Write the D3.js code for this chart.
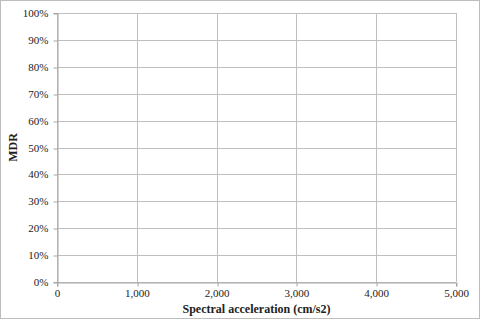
<!DOCTYPE html>
<html>
<head>
<meta charset="utf-8">
<script src="https://cdn.jsdelivr.net/npm/d3@7"></script>
<style>
  html, body { margin: 0; padding: 0; background: #fff; }
  svg { display: block; }
  text { font-family: "Liberation Serif", "DejaVu Serif", serif; fill: #222; }
</style>
</head>
<body>
<script>
// chart values
const xTicks = [0, 1000, 2000, 3000, 4000, 5000];
const yTicks = [0, 0.1, 0.2, 0.3, 0.4, 0.5, 0.6, 0.7, 0.8, 0.9, 1.0];
const xTitle = 'Spectral acceleration (cm/s2)';
const yTitle = 'MDR';

const width = 480, height = 319;
const margin = { left: 57, right: 24, top: 13, bottom: 37 };

const svg = d3.select('body').append('svg')
  .attr('width', width)
  .attr('height', height);

// outer frame
svg.append('rect')
  .attr('x', 0.5).attr('y', 0.5)
  .attr('width', width - 1).attr('height', height - 1)
  .attr('fill', 'none')
  .attr('stroke', '#bdbdbd');

const x = d3.scaleLinear()
  .domain([0, 5000])
  .range([margin.left, width - margin.right]);

const y = d3.scaleLinear()
  .domain([0, 1])
  .range([height - margin.bottom, margin.top]);

const g = svg.append('g');

// gridlines
g.selectAll('.hgrid')
  .data(yTicks)
  .enter().append('line')
  .attr('class', 'hgrid')
  .attr('x1', x(0)).attr('x2', x(5000))
  .attr('y1', d => Math.round(y(d)) + 0.5)
  .attr('y2', d => Math.round(y(d)) + 0.5)
  .attr('stroke', '#bfbfbf');

g.selectAll('.vgrid')
  .data(xTicks)
  .enter().append('line')
  .attr('class', 'vgrid')
  .attr('x1', d => Math.round(x(d)) + 0.5)
  .attr('x2', d => Math.round(x(d)) + 0.5)
  .attr('y1', y(1)).attr('y2', y(0))
  .attr('stroke', '#bfbfbf');

// axes
const fmtX = d3.format(',');
const fmtY = d3.format('.0%');

const xAxis = svg.append('g')
  .attr('transform', `translate(0,${Math.round(y(0)) + 0.5})`)
  .call(d3.axisBottom(x).tickValues(xTicks).tickFormat(fmtX).tickSizeOuter(0).tickSize(4).tickPadding(3));

const yAxis = svg.append('g')
  .attr('transform', `translate(${Math.round(x(0)) + 0.5},0)`)
  .call(d3.axisLeft(y).tickValues(yTicks).tickFormat(fmtY).tickSizeOuter(0).tickSize(4).tickPadding(5));

[xAxis, yAxis].forEach(a => {
  a.select('.domain').attr('stroke', '#a6a6a6');
  a.selectAll('.tick line').attr('stroke', '#a6a6a6');
  a.selectAll('.tick text')
    .attr('fill', '#222')
    .style('font-family', '"Liberation Serif", serif')
    .style('font-size', '11px');
});
xAxis.selectAll('.tick line').attr('transform', d => `translate(${Math.round(x(d)) + 0.5 - x(d)},0)`);
yAxis.selectAll('.tick line').attr('transform', d => `translate(0,${Math.round(y(d)) + 0.5 - y(d)})`);

// titles
svg.append('text')
  .attr('x', (x(0) + x(5000)) / 2)
  .attr('y', 313)
  .attr('text-anchor', 'middle')
  .style('font-size', '12px')
  .style('font-weight', 'bold')
  .text(xTitle);

svg.append('text')
  .attr('transform', `translate(17,${(y(0) + y(1)) / 2}) rotate(-90)`)
  .attr('text-anchor', 'middle')
  .style('font-size', '12px')
  .style('font-weight', 'bold')
  .text(yTitle);
</script>
</body>
</html>
